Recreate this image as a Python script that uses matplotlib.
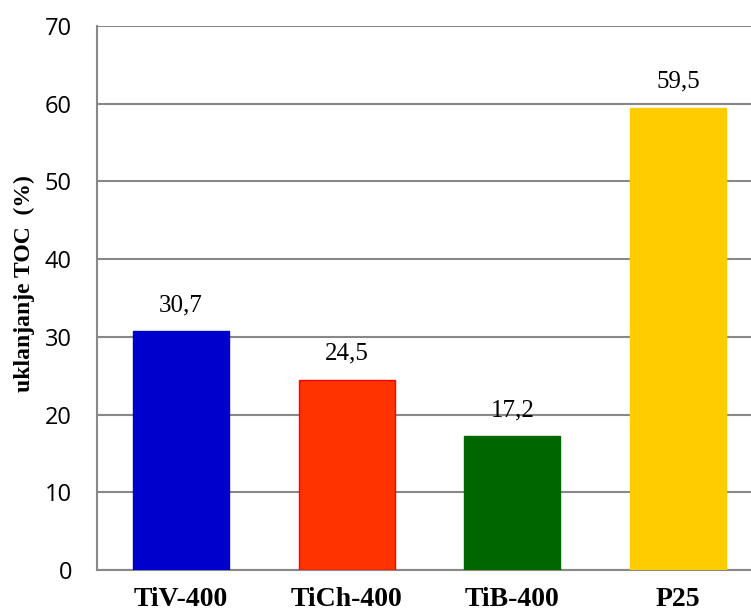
import matplotlib.pyplot as plt

categories = ["TiV-400", "TiCh-400", "TiB-400", "P25"]
toc_removal = [30.7, 24.5, 17.2, 59.5]
bar_colors = ["#0000CC", "#FF3300", "#006600", "#FFCC00"]
edge_colors = ["#0000CC", "#FF0000", "#006600", "#FFCC00"]
y_ticks = [0, 10, 20, 30, 40, 50, 60, 70]

fig = plt.figure(figsize=(7.51, 6.14), dpi=100)
ax = fig.add_axes([0.129, 0.0717, 0.871, 0.886])

x = range(len(categories))
ax.bar(x, toc_removal, width=0.58, color=bar_colors, edgecolor=edge_colors,
       linewidth=1, zorder=3)

for xi, v in zip(x, toc_removal):
    ax.text(xi, v + 1.9, f"{v:.1f}".replace(".", ","), ha="center", va="bottom",
            fontsize=18, family="Liberation Serif")

ax.set_xlim(-0.508, 3.44)
ax.set_ylim(0, 70)
ax.set_yticks(y_ticks)
ax.set_yticklabels([str(t) for t in y_ticks], fontsize=17, family="Open Sans")
ax.set_xticks(list(x))
ax.set_xticklabels(categories, fontsize=20, fontweight="bold", family="Liberation Serif")
ax.tick_params(axis="both", length=0)
ax.tick_params(axis="y", pad=18)
ax.tick_params(axis="x", pad=12)

ax.grid(axis="y", color="#888888", linewidth=1.5, zorder=0)
ax.set_axisbelow(True)
for side in ["top", "right"]:
    ax.spines[side].set_visible(False)
for side in ["left", "bottom"]:
    ax.spines[side].set_color("#888888")
    ax.spines[side].set_linewidth(1.5)

ax.set_ylabel("uklanjanje TOC  (%)", fontsize=17, fontweight="bold",
              family="Liberation Serif")
ax.yaxis.set_label_coords(-0.095, 0.527)

fig.savefig("out.png", dpi=100)
